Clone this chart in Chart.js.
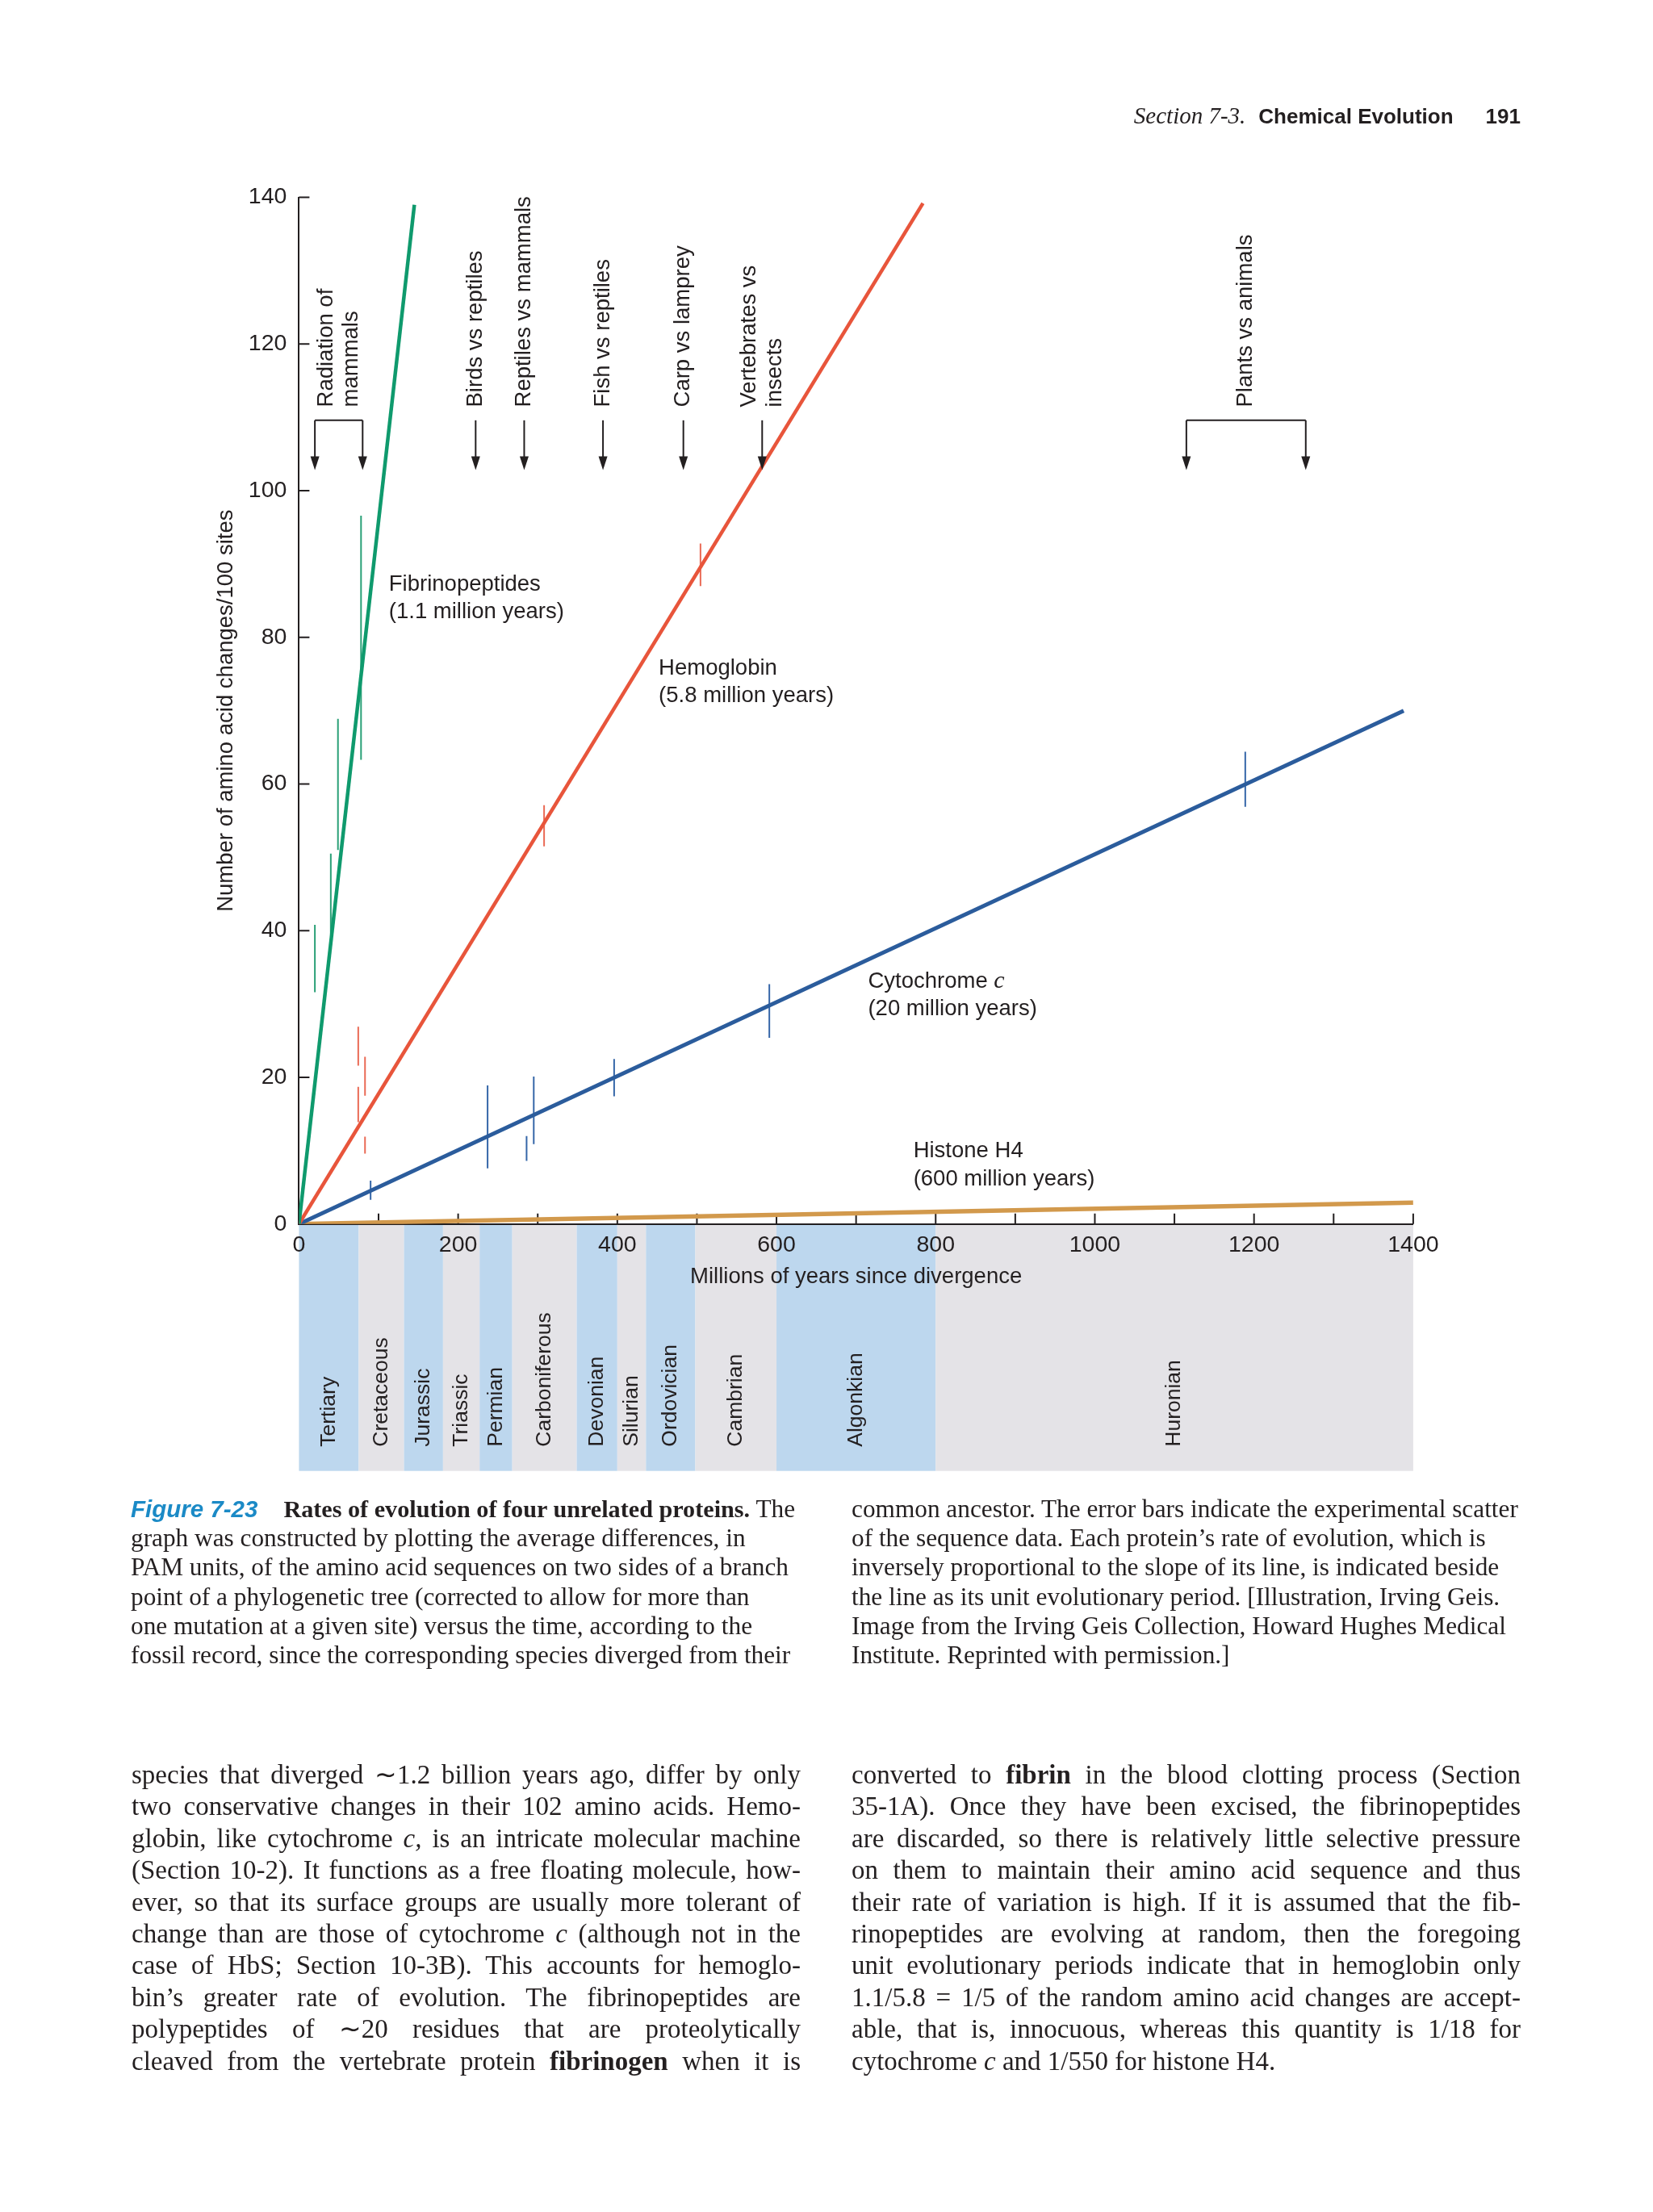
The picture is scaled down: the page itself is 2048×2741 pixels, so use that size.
<!DOCTYPE html>
<html lang="en">
<head>
<meta charset="UTF-8">
<title>Rates of evolution of four unrelated proteins</title>
<script src="https://cdn.jsdelivr.net/npm/chart.js"></script>
<style>
  body { margin: 0; background: #ffffff; width: 2048px; height: 2741px; position: relative; overflow: hidden; }
  #chart { position: absolute; left: 0; top: 0; }
  .head { position: absolute; top: 126px; right: 164px; font-size: 27px; line-height: 34px; color: #231f20; white-space: nowrap; }
  .head .sec { font-family: "Liberation Serif", serif; font-style: italic; font-size: 29px; }
  .head .ttl { font-family: "Liberation Sans", Arial, sans-serif; font-weight: bold; font-size: 26px; margin-left: 16px; }
  .head .pg { font-family: "Liberation Sans", Arial, sans-serif; font-weight: bold; font-size: 26px; margin-left: 40px; }
  .cap { position: absolute; font-family: "Liberation Serif", serif; font-size: 31.3px; line-height: 36.2px; color: #231f20; white-space: nowrap; }
  .cap .fig { font-family: "Liberation Sans", Arial, sans-serif; font-style: italic; font-weight: bold; color: #1b8ac6; font-size: 29.5px; margin-right: 32px; }
  .cap b { font-size: 30.2px; }
  .body { position: absolute; width: 829px; font-family: "Liberation Serif", serif; font-size: 33px; line-height: 39.4px; color: #231f20; }
  .body div { text-align: justify; text-align-last: justify; white-space: nowrap; }
  .body div.end { text-align-last: left; }
</style>
</head>
<body>

<canvas id="chart" width="2048" height="2741"></canvas>

<div class="head"><span class="sec">Section 7-3.</span><span class="ttl">Chemical Evolution</span><span class="pg">191</span></div>

<div class="cap" style="left:162px; top:1852px;">
  <div><span class="fig">Figure 7-23</span><b>Rates of evolution of four unrelated proteins.</b> The</div>
  <div>graph was constructed by plotting the average differences, in</div>
  <div>PAM units, of the amino acid sequences on two sides of a branch</div>
  <div>point of a phylogenetic tree (corrected to allow for more than</div>
  <div>one mutation at a given site) versus the time, according to the</div>
  <div>fossil record, since the corresponding species diverged from their</div>
</div>
<div class="cap" style="left:1055px; top:1852px;">
  <div>common ancestor. The error bars indicate the experimental scatter</div>
  <div>of the sequence data. Each protein’s rate of evolution, which is</div>
  <div>inversely proportional to the slope of its line, is indicated beside</div>
  <div>the line as its unit evolutionary period. [Illustration, Irving Geis.</div>
  <div>Image from the Irving Geis Collection, Howard Hughes Medical</div>
  <div>Institute. Reprinted with permission.]</div>
</div>

<div class="body" style="left:163px; top:2180px;">
  <div>species that diverged ∼1.2 billion years ago, differ by only</div>
  <div>two conservative changes in their 102 amino acids. Hemo-</div>
  <div>globin, like cytochrome <i>c,</i> is an intricate molecular machine</div>
  <div>(Section 10-2). It functions as a free floating molecule, how-</div>
  <div>ever, so that its surface groups are usually more tolerant of</div>
  <div>change than are those of cytochrome <i>c</i> (although not in the</div>
  <div>case of HbS; Section 10-3B). This accounts for hemoglo-</div>
  <div>bin’s greater rate of evolution. The fibrinopeptides are</div>
  <div>polypeptides of ∼20 residues that are proteolytically</div>
  <div>cleaved from the vertebrate protein <b>fibrinogen</b> when it is</div>
</div>
<div class="body" style="left:1055px; top:2180px;">
  <div>converted to <b>fibrin</b> in the blood clotting process (Section</div>
  <div>35-1A). Once they have been excised, the fibrinopeptides</div>
  <div>are discarded, so there is relatively little selective pressure</div>
  <div>on them to maintain their amino acid sequence and thus</div>
  <div>their rate of variation is high. If it is assumed that the fib-</div>
  <div>rinopeptides are evolving at random, then the foregoing</div>
  <div>unit evolutionary periods indicate that in hemoglobin only</div>
  <div>1.1/5.8 = 1/5 of the random amino acid changes are accept-</div>
  <div>able, that is, innocuous, whereas this quantity is 1/18 for</div>
  <div class="end">cytochrome <i>c</i> and 1/550 for histone H4.</div>
</div>

<script>
const fibX = [0, 145];
const fibY = [0, 139];
const hemX = [0, 784];
const hemY = [0, 139.2];
const cytX = [0, 1388];
const cytY = [0, 70];
const hisX = [0, 1400];
const hisY = [0, 2.9];

// error bars: position and low / high ends
const fibErrX = [20, 40, 49, 78];
const fibErrLo = [31.6, 39.5, 51, 63.3];
const fibErrHi = [40.8, 50.5, 68.9, 96.6];
const hemErrX = [74.5, 74.5, 83, 83, 308, 504.5];
const hemErrLo = [21.6, 13.9, 17.5, 9.6, 51.5, 87.0];
const hemErrHi = [26.9, 18.7, 22.8, 11.9, 57.1, 92.8];
const cytErrX = [90, 237, 286, 295, 396, 591, 1189];
const cytErrLo = [3.3, 7.6, 8.6, 10.9, 17.4, 25.4, 56.9];
const cytErrHi = [5.9, 18.9, 12.0, 20.1, 22.5, 32.7, 64.4];

// labels beside the lines
const lineNames = ["Fibrinopeptides", "Hemoglobin", "Cytochrome", "Histone H4"];
const linePeriods = ["(1.1 million years)", "(5.8 million years)", "(20 million years)", "(600 million years)"];
const lineLabelX = [113, 452, 715, 772];
const lineLabelY = [87.2, 75.8, 33.1, 9.9];

// geological periods under the axis (millions of years ago)
const periodNames = ["Tertiary", "Cretaceous", "Jurassic", "Triassic", "Permian", "Carboniferous",
                     "Devonian", "Silurian", "Ordovician", "Cambrian", "Algonkian", "Huronian"];
const periodStart = [0, 75, 132, 181, 227, 268, 349, 400, 436, 498, 600, 800];
const periodEnd = [75, 132, 181, 227, 268, 349, 400, 436, 498, 600, 800, 1400];

// divergences marked with arrows along the top
const compLabels = [["Radiation of", "mammals"], ["Birds vs reptiles"], ["Reptiles vs mammals"],
                    ["Fish vs reptiles"], ["Carp vs lamprey"], ["Vertebrates vs", "insects"], ["Plants vs animals"]];
const compArrows = [[20, 80], [222], [283], [382], [483], [582], [1115, 1265]];

// tick labels
const xTickLabels = ["0", "200", "400", "600", "800", "1000", "1200", "1400"];
const yTickLabels = ["0", "20", "40", "60", "80", "100", "120", "140"];

const ink = "#231f20";
const sans = '"Liberation Sans", Arial, sans-serif';

// squeeze any body line that would run past its column
document.querySelectorAll(".body div").forEach(d => {
    let ls = 0;
    while (d.scrollWidth > d.clientWidth + 0.5 && ls > -2) {
        ls -= 0.1;
        d.style.letterSpacing = ls + "px";
    }
});

function linePoints(xs, ys) {
    return xs.map((x, i) => ({ x: x, y: ys[i] }));
}

// every bar is a two point segment, broken from the next by an empty point
function barPoints(xs, lo, hi) {
    const pts = [];
    xs.forEach((x, i) => {
        pts.push({ x: x, y: lo[i] }, { x: x, y: hi[i] }, { x: x, y: null });
    });
    return pts;
}

// coloured period bands and their names below the x axis
const bandsPlugin = {
    id: "bands",
    beforeDraw(chart) {
        const { ctx, chartArea, scales: { x } } = chart;
        ctx.save();
        periodStart.forEach((s, i) => {
            const x0 = x.getPixelForValue(s);
            const x1 = x.getPixelForValue(periodEnd[i]);
            ctx.fillStyle = i % 2 === 0 ? "#bdd7ee" : "#e4e3e7";
            ctx.fillRect(x0, chartArea.bottom, x1 - x0, 306);
        });
        ctx.fillStyle = ink;
        ctx.font = "26.5px " + sans;
        ctx.textAlign = "left";
        ctx.textBaseline = "middle";
        periodNames.forEach((name, i) => {
            const cx = x.getPixelForValue((periodStart[i] + periodEnd[i]) / 2);
            ctx.save();
            ctx.translate(cx, chartArea.bottom + 276);
            ctx.rotate(-Math.PI / 2);
            ctx.fillText(name, 0, 0);
            ctx.restore();
        });
        ctx.restore();
    }
};

// short tick marks that point into the plot
const innerTicksPlugin = {
    id: "innerTicks",
    beforeDatasetsDraw(chart) {
        const { ctx, chartArea, scales: { x, y } } = chart;
        ctx.save();
        ctx.strokeStyle = ink;
        ctx.lineWidth = 2;
        ctx.beginPath();
        x.ticks.forEach(t => {
            if (t.value === 0) return;
            const px = x.getPixelForValue(t.value);
            ctx.moveTo(px, chartArea.bottom);
            ctx.lineTo(px, chartArea.bottom - 13);
        });
        y.ticks.forEach(t => {
            if (t.value === 0) return;
            const py = y.getPixelForValue(t.value);
            ctx.moveTo(chartArea.left, py);
            ctx.lineTo(chartArea.left + 13, py);
        });
        ctx.stroke();
        ctx.restore();
    }
};

function arrowDown(ctx, px, top, tip) {
    ctx.beginPath();
    ctx.moveTo(px, top);
    ctx.lineTo(px, tip - 14);
    ctx.stroke();
    ctx.beginPath();
    ctx.moveTo(px - 5.5, tip - 17);
    ctx.lineTo(px + 5.5, tip - 17);
    ctx.lineTo(px, tip);
    ctx.closePath();
    ctx.fill();
}

// arrows, brackets and all the written labels inside the plot
const notesPlugin = {
    id: "notes",
    afterDraw(chart) {
        const { ctx, scales: { x, y } } = chart;
        const textBase = y.getPixelForValue(111.4);
        const bracketY = y.getPixelForValue(109.6);
        const tipY = y.getPixelForValue(102.8);
        ctx.save();
        ctx.strokeStyle = ink;
        ctx.fillStyle = ink;
        ctx.lineWidth = 2;
        compArrows.forEach((arrows, i) => {
            const pxs = arrows.map(a => x.getPixelForValue(a));
            pxs.forEach(px => arrowDown(ctx, px, bracketY, tipY));
            if (pxs.length > 1) {
                ctx.beginPath();
                ctx.moveTo(pxs[0], bracketY);
                ctx.lineTo(pxs[1], bracketY);
                ctx.stroke();
            }
            const cx = pxs.reduce((a, b) => a + b, 0) / pxs.length;
            const lines = compLabels[i];
            ctx.font = "27.5px " + sans;
            ctx.textAlign = "left";
            ctx.textBaseline = "middle";
            lines.forEach((txt, k) => {
                ctx.save();
                ctx.translate(cx + (k - (lines.length - 1) / 2) * 31.5, textBase);
                ctx.rotate(-Math.PI / 2);
                ctx.fillText(txt, 0, 0);
                ctx.restore();
            });
        });

        ctx.textAlign = "left";
        ctx.textBaseline = "middle";
        lineNames.forEach((name, i) => {
            const px = x.getPixelForValue(lineLabelX[i]);
            const py = y.getPixelForValue(lineLabelY[i]);
            ctx.font = "27.5px " + sans;
            ctx.fillText(name, px, py);
            if (name === "Cytochrome") {
                const w = ctx.measureText(name + " ").width;
                ctx.font = 'italic 30px "Liberation Serif", serif';
                ctx.fillText("c", px + w, py);
                ctx.font = "27.5px " + sans;
            }
            ctx.fillText(linePeriods[i], px, py + 34.4);
        });
        ctx.restore();
    }
};

const tickFont = { family: sans, size: 28.5 };
const titleFont = { family: sans, size: 27.5 };

new Chart(document.getElementById("chart"), {
    type: "scatter",
    data: {
        datasets: [
            { label: "Fibrinopeptides", data: linePoints(fibX, fibY), showLine: true, borderColor: "#0f9a6d", borderWidth: 4.5, pointRadius: 0 },
            { label: "Hemoglobin", data: linePoints(hemX, hemY), showLine: true, borderColor: "#e8553b", borderWidth: 4.5, pointRadius: 0 },
            { label: "Cytochrome c", data: linePoints(cytX, cytY), showLine: true, borderColor: "#2b5c9c", borderWidth: 5, pointRadius: 0 },
            { label: "Histone H4", data: linePoints(hisX, hisY), showLine: true, borderColor: "#d2994c", borderWidth: 5.5, pointRadius: 0 },
            { label: "Fibrinopeptides scatter", data: barPoints(fibErrX, fibErrLo, fibErrHi), showLine: true, spanGaps: false, borderColor: "#2aa077", borderWidth: 2, pointRadius: 0 },
            { label: "Hemoglobin scatter", data: barPoints(hemErrX, hemErrLo, hemErrHi), showLine: true, spanGaps: false, borderColor: "#ea6a55", borderWidth: 2, pointRadius: 0 },
            { label: "Cytochrome c scatter", data: barPoints(cytErrX, cytErrLo, cytErrHi), showLine: true, spanGaps: false, borderColor: "#3566a8", borderWidth: 2, pointRadius: 0 }
        ]
    },
    options: {
        responsive: false,
        animation: false,
        devicePixelRatio: 1,
        layout: { padding: { left: 260.4, right: 297.1, top: 244.6, bottom: 1124.3 } },
        plugins: { legend: { display: false }, tooltip: { enabled: false } },
        scales: {
            x: {
                type: "linear",
                min: 0,
                max: 1400,
                grid: { display: false, drawTicks: false },
                border: { display: true, color: ink, width: 2 },
                ticks: {
                    stepSize: 100,
                    autoSkip: false,
                    maxRotation: 0,
                    padding: 9,
                    color: ink,
                    font: tickFont,
                    callback: v => xTickLabels.includes(String(v)) ? String(v) : ""
                },
                title: { display: true, text: "Millions of years since divergence", color: ink, font: titleFont, padding: { top: 0, bottom: 17.5 } },
                afterFit: s => { s.height = 100; }
            },
            y: {
                type: "linear",
                min: 0,
                max: 140,
                grid: { display: false, drawTicks: false },
                border: { display: true, color: ink, width: 2 },
                ticks: {
                    stepSize: 20,
                    padding: 15,
                    color: ink,
                    font: tickFont,
                    callback: v => yTickLabels.includes(String(v)) ? String(v) : ""
                },
                title: { display: true, text: "Number of amino acid changes/100 sites", color: ink, font: titleFont, padding: { top: 4, bottom: 0 } },
                afterFit: s => { s.width = 110; }
            }
        }
    },
    plugins: [bandsPlugin, innerTicksPlugin, notesPlugin]
});
</script>
</body>
</html>
